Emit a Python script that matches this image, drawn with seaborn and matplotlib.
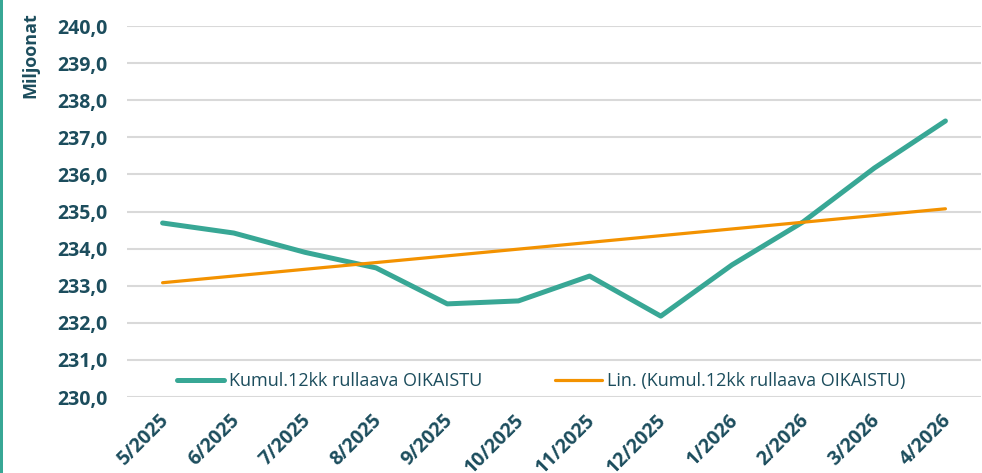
import matplotlib
matplotlib.use("Agg")
import matplotlib.pyplot as plt
import matplotlib.transforms as mtransforms
from matplotlib.patches import Rectangle
import numpy as np
import pandas as pd
import seaborn as sns

months = ["5/2025", "6/2025", "7/2025", "8/2025", "9/2025", "10/2025",
          "11/2025", "12/2025", "1/2026", "2/2026", "3/2026", "4/2026"]
values = [234.69, 234.42, 233.90, 233.48, 232.51, 232.59,
          233.26, 232.18, 233.56, 234.72, 236.17, 237.44]
yticks = [230, 231, 232, 233, 234, 235, 236, 237, 238, 239, 240]
series_label = "Kumul.12kk rullaava OIKAISTU"
trend_label = "Lin. (Kumul.12kk rullaava OIKAISTU)"
ylabel = "Miljoonat"

TEXT = "#1C4D5D"
TEAL = "#38A795"
ORANGE = "#F39200"

sns.set_theme(style="white")
plt.rcParams["font.family"] = ["Open Sans", "DejaVu Sans"]

df = pd.DataFrame({"pos": np.arange(len(months)), "value": values})

fig = plt.figure(figsize=(9.82, 4.73), dpi=100)
ax = fig.add_axes([127 / 982, 1 - 397 / 473, 855 / 982 - 0.001, 371 / 473])

sns.lineplot(data=df, x="pos", y="value", ax=ax, color=TEAL, linewidth=3.6,
             solid_capstyle="round", solid_joinstyle="round", legend=False)
data_line = ax.lines[-1]
sns.regplot(data=df, x="pos", y="value", ax=ax, scatter=False, ci=None,
            truncate=True, color=ORANGE, line_kws={"linewidth": 2.3})
trend_line = ax.lines[-1]

ax.set_xlim(-0.5, len(months) - 0.5)
ax.set_ylim(230, 240)
ax.set_yticks(yticks)
ax.set_yticklabels([f"{v:.1f}".replace(".", ",") for v in yticks])
ax.set_xticks(np.arange(len(months)))
ax.set_xticklabels(months)
ax.grid(axis="y", color="#D9D9D9", linewidth=1.5)
ax.set_axisbelow(True)
for s in ax.spines.values():
    s.set_visible(False)

ax.tick_params(axis="y", length=0, pad=14, labelsize=14, labelcolor=TEXT)
ax.tick_params(axis="x", length=0, pad=15, labelsize=14, labelcolor=TEXT)
for lab in ax.get_yticklabels():
    lab.set_fontweight("bold")
offset = mtransforms.ScaledTranslation(3 / 100, 0, fig.dpi_scale_trans)
for lab in ax.get_xticklabels():
    lab.set_fontweight("bold")
    lab.set_rotation(45)
    lab.set_rotation_mode("anchor")
    lab.set_ha("right")
    lab.set_va("center")
    lab.set_transform(lab.get_transform() + offset)

ax.set_xlabel("")
ax.set_ylabel("")
fig.text(30 / 982, 1 - 55 / 473, ylabel, rotation=90, ha="center", va="center",
         fontsize=13, fontweight="bold", color=TEXT)

ax.legend([data_line, trend_line], [series_label, trend_label],
          loc="center", bbox_to_anchor=(0.485, 0.043), ncol=2, frameon=False,
          fontsize=13, labelcolor=TEXT, handlelength=2.6, handletextpad=0.3,
          columnspacing=4.0)

fig.add_artist(Rectangle((0, 0), 2.5 / 982, 1, transform=fig.transFigure,
                         color=TEAL, linewidth=0))

fig.savefig("out.png", dpi=100)
